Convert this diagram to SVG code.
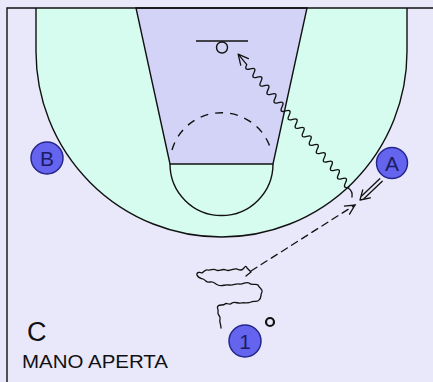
<svg xmlns="http://www.w3.org/2000/svg" width="433" height="382" viewBox="0 0 433 382">
<style>
.ln{stroke:#111;stroke-width:1.4;fill:none}
.pl{fill:#6464EE;stroke:#25258C;stroke-width:1.5}
.lb{font-family:"Liberation Sans",Arial,sans-serif;font-size:21px;fill:#1C1C66;text-anchor:middle}
.tx{font-family:"Liberation Sans",Arial,sans-serif;fill:#111}
.cn{stroke:#111;stroke-width:1.3;fill:none;stroke-linejoin:round;stroke-linecap:round}
</style>
<defs>
<marker id="open" viewBox="0 0 12 12" refX="10" refY="6" markerWidth="12" markerHeight="12" markerUnits="userSpaceOnUse" orient="auto">
<path d="M0,1 L10,6 L0,11" fill="none" stroke="#111" stroke-width="1.3" stroke-dasharray="none"/>
</marker>
</defs>
<rect x="0" y="0" width="433" height="382" fill="#E8E8FA"/>
<g id="court">
<path d="M36,8 L36,51.5 A185.5,185.5 0 0 0 407,51.5 L407,8 Z" fill="#D6FCEF" stroke="none"/>
<path d="M36,8 L36,51.5 A185.5,185.5 0 0 0 407,51.5 L407,8" class="ln"/>
<polygon points="136,8 307,8 273,164 170,164" fill="#D3D3F7" stroke="#111" stroke-width="1.4"/>
<path d="M170,164 A51.5,51.5 0 0 0 273,164" class="ln"/>
<path d="M172,150 A51.5,51.5 0 0 1 271,150" class="ln" stroke-dasharray="8,7"/>
<line x1="196" y1="41" x2="248" y2="41" class="ln" stroke-width="1.6"/>
<circle cx="222" cy="47.5" r="5.5" class="ln" stroke-width="1.6"/>
<path d="M7,382 L7,8 L433,8" class="ln" stroke-width="1.6"/>
</g>
<g id="connectors">
<path d="M348,188 q5,3 4,9" class="cn"/>
<g transform="translate(349,187) rotate(230.15)">
<path class="cn" d="M0,0 q2.75,-6.5 5.5,0 t5.5,0 t5.5,0 t5.5,0 t5.5,0 t5.5,0 t5.5,0 t5.5,0 t5.5,0 t5.5,0 t5.5,0 t5.5,0 t5.5,0 t5.5,0 t5.5,0 t5.5,0 t5.5,0 t5.5,0 t5.5,0 t5.5,0 t5.5,0 t5.5,0 t5.5,0 t5.5,0 t5.5,0 t5.5,0 t5.5,0 t5.5,0 t5.5,0 L172,0"/>
<path class="cn" d="M163,-5 L173,0 L163,5"/>
</g>
<line x1="251" y1="271" x2="355" y2="205" class="cn" stroke-dasharray="7,5" marker-end="url(#open)"/>
<g transform="translate(360,200) rotate(-43.6)">
<path class="cn" d="M4,-1.8 L29,-1.8 M4,1.8 L29,1.8"/>
<path class="cn" d="M9,-5.5 L0,0 L9,5.5"/>
</g>
<path class="cn" d="M221,328 C221,324 219,322 220,319 C221,316 217,315 218,312 C219,309 216,308 218,306 C220,304 223,306 225,304 C227,302 229,306 232,303 C235,301 238,304 241,303 C244,302 247,304 251,302 C254,300 257,303 259,300 C262,298 260,295 262,292 C263,289 259,288 258,285 C256,283 252,286 249,283 C246,281 243,285 239,284 C236,283 233,286 229,285 C225,284 222,287 218,285 C215,284 214,281 210,282 C206,283 206,280 203,279 C200,278 198,278 197,275 C196,272 200,272 202,273 C204,272 205,269 208,270 C211,271 213,268 216,270 C219,272 222,268 226,270 C230,272 233,268 237,269 C240,270 241,271 243,269 C245,267 246,265 247,268 L251,272 L246,276"/>
</g>
<g id="player-A">
<circle cx="392" cy="163" r="15.5" class="pl"/>
<text x="392" y="170.5" class="lb">A</text>
</g>
<g id="player-B">
<circle cx="47" cy="158" r="16" class="pl"/>
<text x="47" y="165.5" class="lb">B</text>
</g>
<g id="player-1">
<circle cx="245" cy="341" r="16" class="pl"/>
<text x="245" y="348.5" class="lb">1</text>
</g>
<g id="ball">
<circle cx="270" cy="322" r="4" fill="none" stroke="#111" stroke-width="2.2"/>
</g>
<g id="labels">
<text x="27" y="341" class="tx" font-size="27">C</text>
<text x="22" y="368" class="tx" font-size="18" textLength="146" lengthAdjust="spacingAndGlyphs">MANO APERTA</text>
</g>
</svg>
